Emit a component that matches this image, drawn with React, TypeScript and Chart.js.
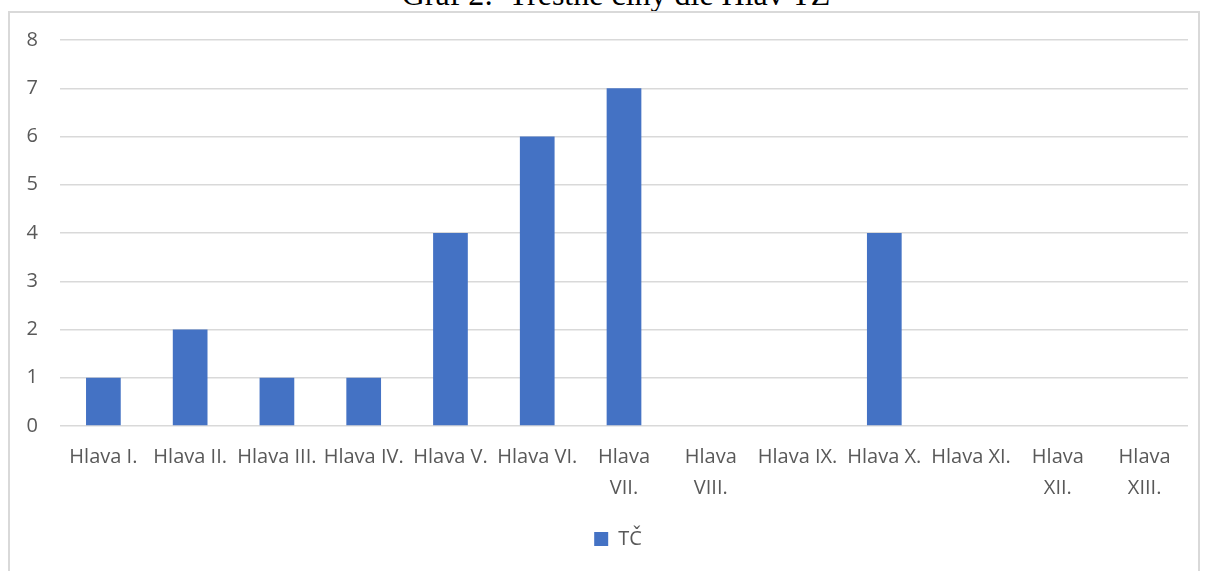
import React, { useEffect, useRef } from "react";
import { Chart, registerables } from "chart.js";

Chart.register(...registerables);

const categories: (string | string[])[] = [
  "Hlava I.",
  "Hlava II.",
  "Hlava III.",
  "Hlava IV.",
  "Hlava V.",
  "Hlava VI.",
  ["Hlava", "VII."],
  ["Hlava", "VIII."],
  "Hlava IX.",
  "Hlava X.",
  "Hlava XI.",
  ["Hlava", "XII."],
  ["Hlava", "XIII."],
];
const seriesName = "TČ";
const values = [1, 2, 1, 1, 4, 6, 7, 0, 0, 4, 0, 0, 0];
const yTicks = [0, 1, 2, 3, 4, 5, 6, 7, 8];
const titleText = "Graf 2:  Trestné činy dle Hlav TZ";

const FONT = "'Open Sans', 'Noto Sans', sans-serif";
const GRAY = "#595959";

const legendShift = {
  id: "legendShift",
  afterLayout(chart: any) {
    if (chart.legend) {
      chart.legend.left += 20;
      chart.legend.right += 20;
    }
  },
};

export default function App() {
  const ref = useRef<HTMLCanvasElement | null>(null);
  useEffect(() => {
    if (!ref.current) return;
    const chart = new Chart(ref.current, {
      type: "bar",
      data: {
        labels: categories,
        datasets: [
          {
            label: seriesName,
            data: values,
            backgroundColor: "#4472C4",
            borderWidth: 0,
            barPercentage: 0.4,
            categoryPercentage: 1,
          },
        ],
      },
      plugins: [legendShift],
      options: {
        animation: false,
        responsive: false,
        devicePixelRatio: 1,
        layout: { padding: { top: 29, right: 14, left: 0, bottom: 0 } },
        plugins: {
          title: { display: false },
          tooltip: { enabled: false },
          legend: {
            display: true,
            position: "bottom",
            labels: {
              boxWidth: 14,
              boxHeight: 14,
              padding: 10,
              color: GRAY,
              font: { family: FONT, size: 20 },
            },
          },
        },
        scales: {
          x: {
            grid: { display: false, drawTicks: false },
            border: { display: false },
            ticks: {
              color: GRAY,
              font: { family: FONT, size: 20, lineHeight: 1.55 },
              padding: 16,
              maxRotation: 0,
              minRotation: 0,
              autoSkip: false,
            },
            afterFit: (scale: any) => {
              scale.height = 93;
            },
          },
          y: {
            min: yTicks[0],
            max: yTicks[yTicks.length - 1],
            grid: { color: "#d9d9d9", lineWidth: 1.5, drawTicks: false },
            border: { display: false },
            ticks: {
              stepSize: 1,
              color: GRAY,
              font: { family: FONT, size: 20 },
              padding: 22,
            },
            afterFit: (scale: any) => {
              scale.width = 52;
              scale.paddingTop = 0;
              scale.paddingBottom = 0;
            },
          },
        },
      },
    });
    return () => chart.destroy();
  }, []);

  return (
    <div
      style={{
        position: "fixed",
        left: 0,
        top: 0,
        width: 1206,
        height: 571,
        overflow: "hidden",
        background: "#fff",
      }}
    >
      <div
        style={{
          position: "absolute",
          left: 616,
          top: -22,
          transform: "translateX(-50%)",
          fontFamily: "'Liberation Serif', 'Times New Roman', serif",
          fontSize: 32,
          lineHeight: "32px",
          whiteSpace: "pre",
          color: "#000",
        }}
      >
        {titleText}
      </div>
      <div
        style={{
          position: "absolute",
          left: 8,
          top: 11,
          width: 1192,
          height: 600,
          border: "2px solid #d9d9d9",
          boxSizing: "border-box",
        }}
      />
      <canvas
        ref={ref}
        width={1194}
        height={548}
        style={{ position: "absolute", left: 8, top: 11, width: 1194, height: 548 }}
      />
    </div>
  );
}
